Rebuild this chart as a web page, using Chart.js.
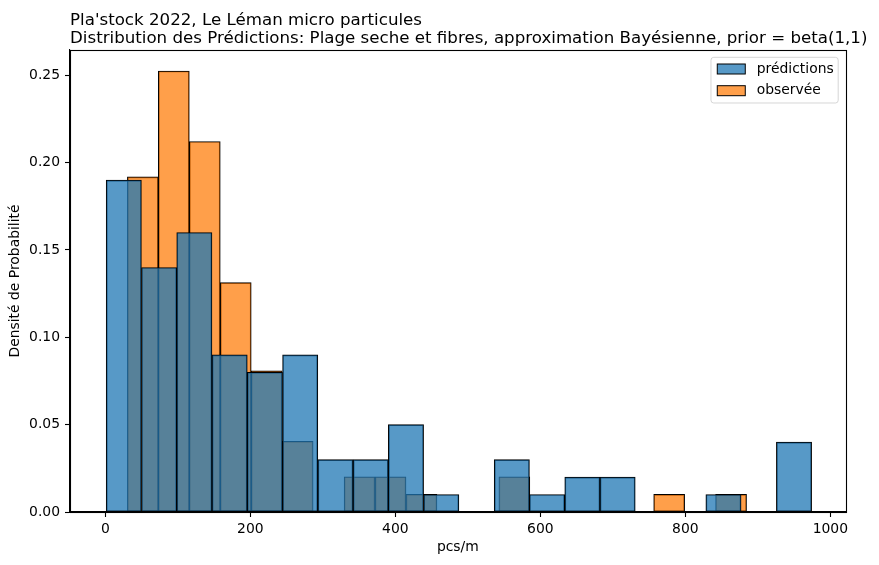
<!DOCTYPE html>
<html>
<head>
<meta charset="utf-8">
<script src="https://cdn.jsdelivr.net/npm/chart.js@4/dist/chart.umd.min.js"></script>
<style>
  body { margin: 0; background: #ffffff; }
  #wrap { width: 879px; height: 565px; }
</style>
</head>
<body>
<div id="wrap"><canvas id="histChart" width="879" height="565"></canvas></div>
<script>
var titleLines = [
    "Pla'stock 2022, Le Léman micro particules",
    "Distribution des Prédictions: Plage seche et fibres, approximation Bayésienne, prior = beta(1,1)"
];
var xLabel = "pcs/m";
var yLabel = "Densité de Probabilité";

// bin centres (pcs/m) and bar heights
var predBins = [25.5, 74.2, 122.8, 171.5, 220.1, 268.8, 317.4, 366.1, 414.7, 463.4,
                512.0, 560.7, 609.3, 658.0, 706.6, 755.3, 803.9, 852.6, 901.2, 949.9];
var predValues = [0.19, 0.14, 0.16, 0.09, 0.08, 0.09, 0.03, 0.03, 0.05, 0.01,
                  0, 0.03, 0.01, 0.02, 0.02, 0, 0, 0.01, 0, 0.04];
var obsBins = [51.8, 94.5, 137.2, 179.9, 222.6, 265.3, 308.0, 350.7, 393.4, 436.1,
               478.8, 521.5, 564.2, 606.9, 649.6, 692.3, 735.0, 777.7, 820.4, 863.1];
var obsValues = [0.1919, 0.2525, 0.2121, 0.1313, 0.0808, 0.0404, 0, 0.0202, 0.0202, 0.0101,
                 0, 0, 0.0202, 0, 0, 0, 0, 0.0101, 0, 0.0101];
var xTicks = [0, 200, 400, 600, 800, 1000];
var yTicks = [0, 0.05, 0.10, 0.15, 0.20, 0.25];

var seriesNames = ["prédictions", "observée"];
var fills = ["rgba(31,119,180,0.75)", "rgba(255,127,14,0.75)"];

var X_MIN = -48.7, X_MAX = 1021.2;
var FONT = "DejaVu Sans";

Chart.defaults.font.family = FONT;
Chart.defaults.color = "#000000";

function toPoints(xs, ys) {
    var out = [];
    for (var i = 0; i < xs.length; i++) {
        out.push({x: xs[i], y: ys[i]});
    }
    return out;
}

// matplotlib style title, frame and legend
var decorPlugin = {
    id: "decor",
    afterDraw: function (chart) {
        var ctx = chart.ctx;
        var area = chart.chartArea;
        ctx.save();

        // frame
        ctx.strokeStyle = "#000000";
        ctx.lineWidth = 1.1;
        ctx.strokeRect(Math.round(area.left) + 0.5, Math.round(area.top) + 0.5,
                       Math.round(area.right - area.left), Math.round(area.bottom - area.top));

        // title
        ctx.fillStyle = "#000000";
        ctx.font = "16.67px '" + FONT + "'";
        ctx.textAlign = "left";
        ctx.textBaseline = "alphabetic";
        ctx.fillText(titleLines[0], area.left, 24.7);
        ctx.fillText(titleLines[1], area.left, 42.7);

        // legend
        ctx.font = "13.9px '" + FONT + "'";
        var textW = 0;
        for (var i = 0; i < seriesNames.length; i++) {
            textW = Math.max(textW, ctx.measureText(seriesNames[i]).width);
        }
        var boxW = 6.3 + 28 + 11.5 + textW + 4.5;
        var boxH = 45.7;
        var bx = area.right - 7.5 - boxW;
        var by = area.top + 7.3;
        ctx.beginPath();
        ctx.roundRect(bx, by, boxW, boxH, 2.8);
        ctx.fillStyle = "rgba(255,255,255,0.8)";
        ctx.fill();
        ctx.strokeStyle = "rgba(204,204,204,0.8)";
        ctx.lineWidth = 1;
        ctx.stroke();
        for (var j = 0; j < seriesNames.length; j++) {
            var cy = by + 11.7 + j * 21.7;
            ctx.fillStyle = "#ffffff";
            ctx.fillRect(bx + 6.3, cy - 5, 28, 10);
            ctx.fillStyle = fills[j];
            ctx.fillRect(bx + 6.3, cy - 5, 28, 10);
            ctx.strokeStyle = "#000000";
            ctx.strokeRect(bx + 6.3, cy - 5, 28, 10);
            ctx.fillStyle = "#000000";
            ctx.textBaseline = "middle";
            ctx.fillText(seriesNames[j], bx + 6.3 + 28 + 11.5, cy);
        }
        ctx.restore();
    }
};

var barStyle = {
    borderColor: "#000000",
    borderWidth: 1,
    borderSkipped: false,
    grouped: false,
    barPercentage: 1,
    categoryPercentage: 1
};

new Chart(document.getElementById("histChart"), {
    type: "bar",
    data: {
        datasets: [
            Object.assign({
                label: seriesNames[0],
                data: toPoints(predBins, predValues),
                backgroundColor: fills[0],
                xAxisID: "x"
            }, barStyle),
            Object.assign({
                label: seriesNames[1],
                data: toPoints(obsBins, obsValues),
                backgroundColor: fills[1],
                xAxisID: "xObs"
            }, barStyle)
        ]
    },
    options: {
        responsive: false,
        animation: false,
        layout: {padding: {top: 50, right: 33.3, left: 0, bottom: 0}},
        plugins: {
            legend: {display: false},
            tooltip: {enabled: false},
            title: {display: false}
        },
        scales: {
            x: {
                type: "linear",
                min: X_MIN,
                max: X_MAX,
                offset: false,
                afterBuildTicks: function (axis) {
                    axis.ticks = xTicks.map(function (v) { return {value: v}; });
                },
                afterFit: function (axis) { axis.height = 53; },
                ticks: {
                    autoSkip: false,
                    maxRotation: 0,
                    padding: 4,
                    font: {size: 13.9},
                    color: "#000000",
                    callback: function (v) { return String(v); }
                },
                grid: {
                    display: true,
                    offset: false,
                    drawOnChartArea: false,
                    drawTicks: true,
                    tickLength: 5,
                    tickWidth: 1.1,
                    tickColor: "#000000"
                },
                border: {display: true, color: "#000000", width: 1.1},
                title: {
                    display: true,
                    text: xLabel,
                    font: {size: 13.9},
                    color: "#000000",
                    padding: {top: 0, bottom: 9.5}
                }
            },
            xObs: {
                type: "linear",
                display: false,
                min: X_MIN,
                max: X_MAX,
                offset: false,
                grid: {offset: false}
            },
            y: {
                type: "linear",
                min: 0,
                max: 0.2645,
                afterBuildTicks: function (axis) {
                    axis.ticks = yTicks.map(function (v) { return {value: v}; });
                },
                afterFit: function (axis) { axis.width = 70; },
                ticks: {
                    padding: 5,
                    font: {size: 13.9},
                    color: "#000000",
                    callback: function (v) { return v.toFixed(2); }
                },
                grid: {
                    display: true,
                    drawOnChartArea: false,
                    drawTicks: true,
                    tickLength: 5,
                    tickWidth: 1.1,
                    tickColor: "#000000"
                },
                border: {display: true, color: "#000000", width: 1.1},
                title: {
                    display: true,
                    text: yLabel,
                    font: {size: 13.9},
                    color: "#000000",
                    padding: {top: 7.5, bottom: 0}
                }
            }
        }
    },
    plugins: [decorPlugin]
});
</script>
</body>
</html>
